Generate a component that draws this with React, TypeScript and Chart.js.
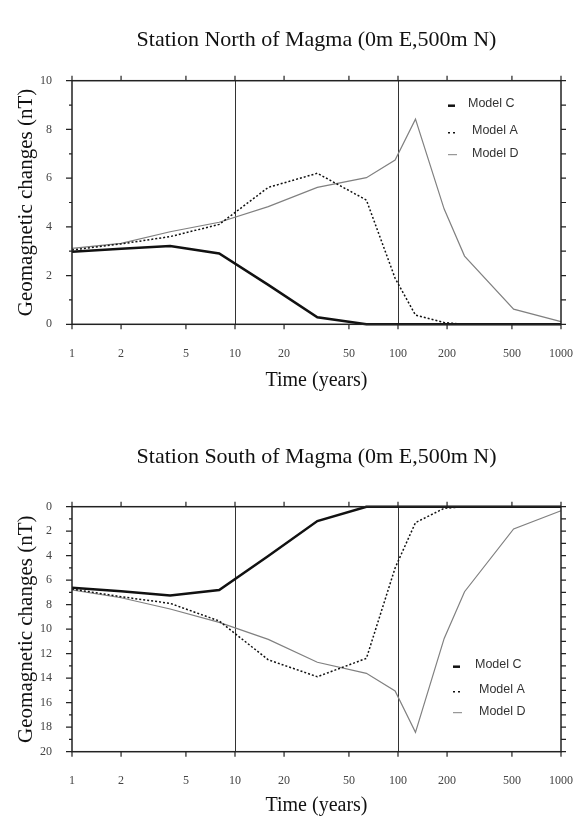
import React, { useEffect, useRef } from 'react';
import { Chart, registerables } from 'chart.js';

Chart.register(...registerables);

// ---- data ----
const TIMES = [1, 2, 4, 8, 16, 32, 64, 96, 128, 192, 256, 512, 1000];
const X_TICKS = [1, 2, 5, 10, 20, 50, 100, 200, 500, 1000];
const MARK_LINES = [10, 100];
const SERIES_LABELS = ['Model C', 'Model A', 'Model D'];

const NORTH_TITLE = 'Station North of Magma (0m E,500m N)';
const NORTH_C = [2.98, 3.1, 3.21, 2.91, 1.62, 0.29, 0, 0, 0, 0, 0, 0, 0];
const NORTH_A = [3.05, 3.3, 3.6, 4.1, 5.62, 6.2, 5.1, 1.89, 0.38, 0.07, 0, 0, 0];
const NORTH_D = [3.12, 3.32, 3.8, 4.19, 4.83, 5.62, 6.02, 6.74, 8.42, 4.73, 2.8, 0.62, 0.11];
const NORTH_Y_TICKS = [0, 2, 4, 6, 8, 10];

const SOUTH_TITLE = 'Station South of Magma (0m E,500m N)';
const SOUTH_C = [6.61, 6.9, 7.24, 6.8, 4.02, 1.17, 0, 0, 0, 0, 0, 0, 0];
const SOUTH_A = [6.72, 7.35, 7.89, 9.33, 12.5, 13.88, 12.38, 5.0, 1.3, 0.13, 0, 0, 0];
const SOUTH_D = [6.8, 7.43, 8.35, 9.44, 10.83, 12.7, 13.6, 15.04, 18.42, 10.75, 6.94, 1.82, 0.33];
const SOUTH_Y_TICKS = [0, 2, 4, 6, 8, 10, 12, 14, 16, 18, 20];

const X_TITLE = 'Time (years)';
const Y_TITLE = 'Geomagnetic changes (nT)';

const SERIF = '"Liberation Serif", "Times New Roman", serif';
const SANS = '"Liberation Sans", Arial, sans-serif';

type LegendPos = { mx: number; tx: number[]; ty: number[] };

type PanelProps = {
  title: string;
  c: number[];
  a: number[];
  d: number[];
  yMax: number;
  yTicks: number[];
  reverse: boolean;
  height: number;
  titlePad: { top: number; bottom: number };
  xAxisHeight: number;
  xTitlePadBottom: number;
  legend: LegendPos;
};

function Panel(p: PanelProps) {
  const ref = useRef<HTMLCanvasElement | null>(null);
  useEffect(() => {
    if (!ref.current) return;
    const toPts = (arr: number[]) => TIMES.map((t, i) => ({ x: t, y: arr[i] }));
    const framePlugin = {
      id: 'frame',
      beforeDatasetsDraw(chart: any) {
        const { ctx, chartArea, scales } = chart;
        const { top, bottom } = chartArea;
        ctx.save();
        ctx.strokeStyle = '#333';
        ctx.lineWidth = 1;
        MARK_LINES.forEach((v) => {
          const px = Math.round(scales.x.getPixelForValue(v)) + 0.5;
          ctx.beginPath();
          ctx.moveTo(px, top);
          ctx.lineTo(px, bottom);
          ctx.stroke();
        });
        ctx.restore();
      },
      afterDatasetsDraw(chart: any) {
        const { ctx, chartArea, scales } = chart;
        const { left, right, top, bottom } = chartArea;
        ctx.save();
        ctx.strokeStyle = '#222';
        ctx.lineWidth = 1.5;
        ctx.strokeRect(left, top, right - left, bottom - top);
        ctx.lineWidth = 1.2;
        // x ticks top & bottom
        X_TICKS.forEach((v) => {
          const px = scales.x.getPixelForValue(v);
          ctx.beginPath();
          ctx.moveTo(px, bottom);
          ctx.lineTo(px, bottom + 5);
          ctx.moveTo(px, top);
          ctx.lineTo(px, top - 5);
          ctx.stroke();
        });
        // y ticks left (major/minor) and right
        for (let v = 0; v <= p.yMax; v += 1) {
          const py = scales.y.getPixelForValue(v);
          const major = v % 2 === 0;
          ctx.beginPath();
          ctx.moveTo(left, py);
          ctx.lineTo(left - (major ? 6 : 3), py);
          ctx.moveTo(right, py);
          ctx.lineTo(right + 5, py);
          ctx.stroke();
        }
        // legend
        const L = p.legend;
        ctx.font = `12.5px ${SANS}`;
        ctx.fillStyle = '#333';
        ctx.textBaseline = 'middle';
        ctx.textAlign = 'left';
        SERIES_LABELS.forEach((lab, i) => {
          const y = top + L.ty[i];
          ctx.beginPath();
          if (i === 0) {
            ctx.strokeStyle = '#111';
            ctx.lineWidth = 2.5;
            ctx.setLineDash([]);
            ctx.moveTo(left + L.mx, y + 2);
            ctx.lineTo(left + L.mx + 7, y + 2);
          } else if (i === 1) {
            ctx.strokeStyle = '#111';
            ctx.lineWidth = 1.5;
            ctx.setLineDash([2, 3]);
            ctx.moveTo(left + L.mx, y + 2);
            ctx.lineTo(left + L.mx + 8, y + 2);
          } else {
            ctx.strokeStyle = '#808080';
            ctx.lineWidth = 1;
            ctx.setLineDash([]);
            ctx.moveTo(left + L.mx, y + 1);
            ctx.lineTo(left + L.mx + 9, y + 1);
          }
          ctx.stroke();
          ctx.setLineDash([]);
          ctx.fillText(lab, left + L.tx[i], y);
        });
        ctx.restore();
      },
    };

    const chart = new Chart(ref.current, {
      type: 'line',
      data: {
        datasets: [
          {
            label: SERIES_LABELS[0],
            data: toPts(p.c),
            borderColor: '#111',
            borderWidth: 2.5,
            pointRadius: 0,
            tension: 0,
            clip: false as any,
          },
          {
            label: SERIES_LABELS[1],
            data: toPts(p.a),
            borderColor: '#111',
            borderWidth: 1.5,
            borderDash: [2, 2],
            pointRadius: 0,
            tension: 0,
            clip: false as any,
          },
          {
            label: SERIES_LABELS[2],
            data: toPts(p.d),
            borderColor: '#808080',
            borderWidth: 1.2,
            pointRadius: 0,
            tension: 0,
            clip: false as any,
          },
        ],
      },
      options: {
        responsive: false,
        maintainAspectRatio: false,
        animation: false,
        devicePixelRatio: 1,
        layout: { padding: { left: 0, right: 15, top: 0, bottom: 0 } },
        plugins: {
          legend: { display: false },
          tooltip: { enabled: false },
          title: {
            display: true,
            text: p.title,
            fullSize: false,
            color: '#111',
            font: { family: SERIF, size: 22, weight: 'normal' },
            padding: { top: p.titlePad.top, bottom: p.titlePad.bottom },
          },
        },
        scales: {
          x: {
            type: 'logarithmic',
            min: 1,
            max: 1000,
            grid: { display: false, drawTicks: false },
            border: { display: false },
            afterBuildTicks: (s: any) => {
              s.ticks = X_TICKS.map((v) => ({ value: v }));
            },
            afterFit: (s: any) => {
              s.height = p.xAxisHeight;
              s.paddingLeft = 0;
              s.paddingRight = 0;
            },
            ticks: {
              autoSkip: false,
              maxRotation: 0,
              padding: 22,
              color: '#444',
              font: { family: SERIF, size: 12 },
              callback: (v: any) => String(v),
            },
            title: {
              display: true,
              text: X_TITLE,
              color: '#111',
              font: { family: SERIF, size: 20 },
              padding: { top: 0, bottom: p.xTitlePadBottom },
            },
          },
          y: {
            type: 'linear',
            min: 0,
            max: p.yMax,
            reverse: p.reverse,
            grid: { display: false, drawTicks: false },
            border: { display: false },
            afterBuildTicks: (s: any) => {
              s.ticks = p.yTicks.map((v) => ({ value: v }));
            },
            afterFit: (s: any) => {
              s.width = 72;
              s.paddingTop = 0;
              s.paddingBottom = 0;
            },
            ticks: {
              padding: 20,
              color: '#444',
              font: { family: SERIF, size: 12 },
            },
            title: {
              display: true,
              text: Y_TITLE,
              color: '#111',
              font: { family: SERIF, size: 21 },
              padding: { top: 13.4, bottom: 0 },
            },
          },
        },
      },
      plugins: [framePlugin],
    } as any);
    return () => chart.destroy();
  }, []);
  return (
    <canvas
      ref={ref}
      width={576}
      height={p.height}
      style={{ display: 'block', width: 576, height: p.height }}
    />
  );
}

export default function App() {
  return (
    <div
      style={{
        position: 'absolute',
        left: 0,
        top: 0,
        width: 576,
        height: 816,
        overflow: 'hidden',
        background: '#fff',
      }}
    >
      <Panel
        title={NORTH_TITLE}
        c={NORTH_C}
        a={NORTH_A}
        d={NORTH_D}
        yMax={10}
        yTicks={NORTH_Y_TICKS}
        reverse={false}
        height={408}
        titlePad={{ top: 26.8, bottom: 27.5 }}
        xAxisHeight={83.7}
        xTitlePadBottom={15}
        legend={{ mx: 376, tx: [396, 400, 400], ty: [23, 50, 73] }}
      />
      <Panel
        title={SOUTH_TITLE}
        c={SOUTH_C}
        a={SOUTH_A}
        d={SOUTH_D}
        yMax={20}
        yTicks={SOUTH_Y_TICKS}
        reverse={true}
        height={420}
        titlePad={{ top: 35.8, bottom: 36.5 }}
        xAxisHeight={76.3}
        xTitlePadBottom={10}
        legend={{ mx: 381, tx: [403, 407, 407], ty: [158, 183, 205] }}
      />
    </div>
  );
}
